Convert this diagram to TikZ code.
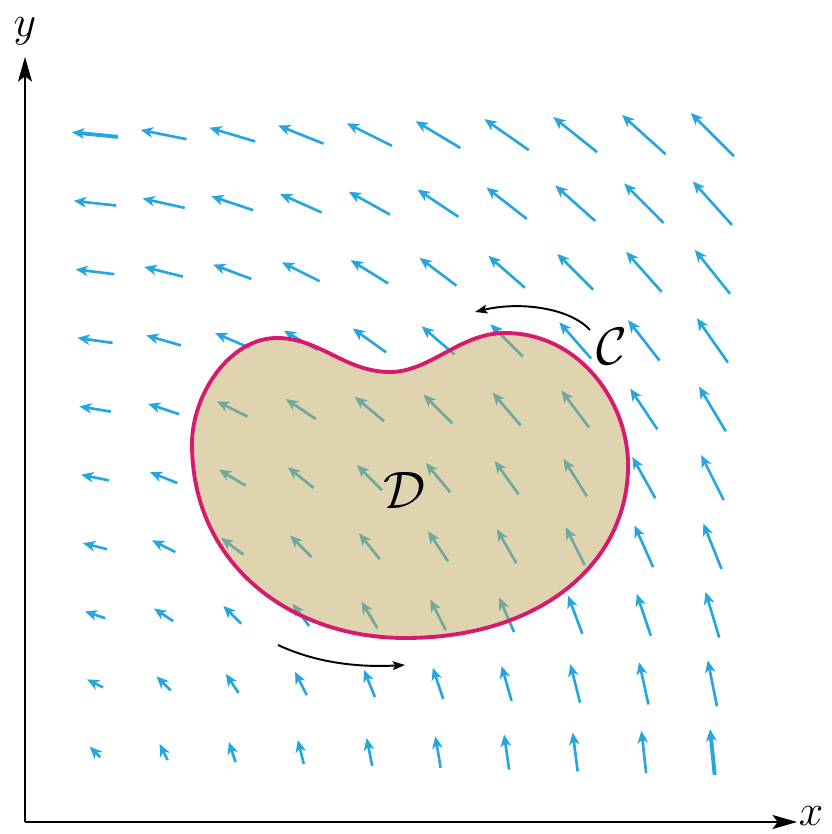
\documentclass[tikz,border=0pt]{standalone}
\usepackage{fix-cm}
\usetikzlibrary{arrows.meta}
\definecolor{fieldblue}{RGB}{38,166,222}
\definecolor{fieldteal}{RGB}{110,168,158}
\definecolor{regiontan}{RGB}{224,211,176}
\definecolor{curvepink}{RGB}{214,26,110}
\tikzset{
  field arrow/.style={draw=fieldblue,
    -{Stealth[length=7pt,width=6pt,inset=2pt]}},
  inner arrow/.style={field arrow, draw=fieldteal},
  axis/.style={line width=0.9pt, -{Stealth[length=14pt,width=8pt,inset=3pt]}},
  orient/.style={line width=1.1pt, -{Stealth[length=7pt,width=5pt,inset=1.5pt]}},
  big label/.style={font=\fontsize{30}{30}\selectfont, inner sep=0pt},
  axis label/.style={font=\fontsize{25}{25}\selectfont, inner sep=0pt}
}
% field F = (-y, x), arrows centred on a 10x10 grid
\newcommand{\drawfield}[1]{%
  \foreach \i in {0,...,9}{
    \foreach \j in {0,...,9}{
      \pgfmathsetmacro{\fx}{-(\j+1)}
      \pgfmathsetmacro{\fy}{\i+1}
      \pgfmathsetmacro{\fn}{sqrt(\fx*\fx+\fy*\fy)}
      \pgfmathsetmacro{\hl}{0.5*(9.9+3.62*\fn)}
      \pgfmathsetmacro{\cx}{95+68.6*\i}
      \pgfmathsetmacro{\cy}{82+68.6*\j}
      \pgfmathsetmacro{\lw}{((\i==0 && \j==9) || (\i==9 && \j==0)) ? 2.2 : 1.5}
      \draw[#1, line width=\lw pt] (\cx-\hl*\fx/\fn, \cy-\hl*\fy/\fn)
        -- (\cx+\hl*\fx/\fn, \cy+\hl*\fy/\fn);
    }
  }%
}
\def\kidney{(277,496) .. controls (320,496) and (345,462) .. (390,462)
  .. controls (430,462) and (460,501) .. (505,501)
  .. controls (580,501) and (630,430) .. (628,365)
  .. controls (626,270) and (540,196) .. (405,196)
  .. controls (290,196) and (192,270) .. (192,390)
  .. controls (192,440) and (230,496) .. (277,496) -- cycle}

\begin{document}
\begin{tikzpicture}[x=0.02cm, y=0.02cm, line cap=butt, line join=round]
  \useasboundingbox (0,0) rectangle (831,834);

  \drawfield{field arrow}

  \fill[regiontan] \kidney;
  \begin{scope}
    \clip \kidney;
    \drawfield{inner arrow}
  \end{scope}
  \draw[curvepink, line width=2.2pt] \kidney;

  % axes
  \coordinate (O) at (25,12);
  \coordinate (xtip) at (797,12);
  \coordinate (ytip) at (25,777);
  \draw[axis] (O) -- (xtip);
  \draw[axis] (O) -- (ytip);
  \node[axis label] (xlab) at (811,18) {$x$};
  \node[axis label] (ylab) at (25,803) {$y$};

  % labels and orientation
  \node[big label] (labD) at (405,344) {$\mathcal{D}$};
  \node[big label] (labC) at (612,487) {$\mathcal{C}$};
  \coordinate (topstart) at (590,504);
  \coordinate (topend) at (475,522);
  \coordinate (botstart) at (278,189);
  \coordinate (botend) at (405,169);
  \draw[orient] (topstart) .. controls (570,526) and (520,533) .. (topend);
  \draw[orient] (botstart) .. controls (310,174) and (350,166) .. (botend);
\end{tikzpicture}
\end{document}
